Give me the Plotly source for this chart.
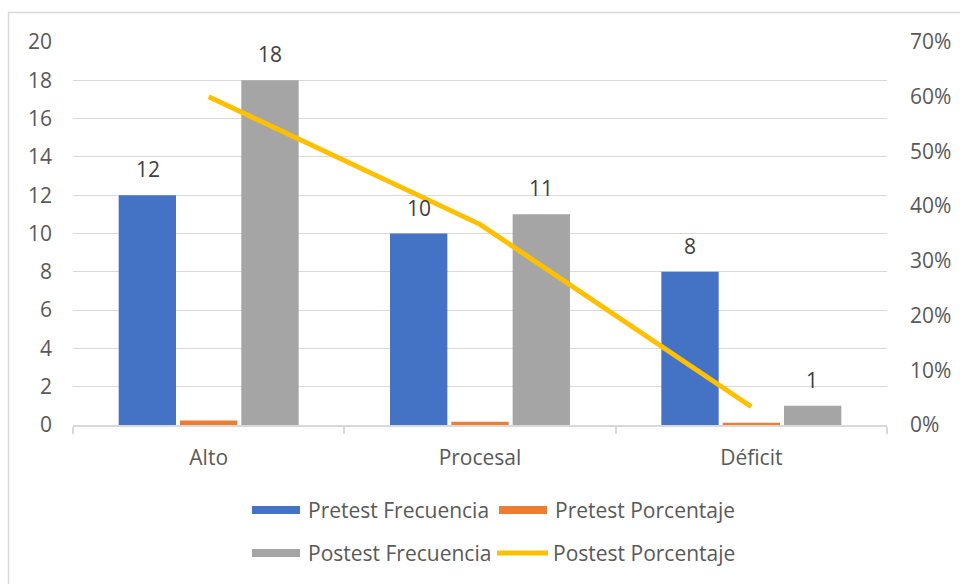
import plotly.graph_objects as go

# Chart data
categories = ["Alto", "Procesal", "Déficit"]
pretest_frecuencia = [12, 10, 8]
pretest_porcentaje = [0.23, 0.17, 0.12]
postest_frecuencia = [18, 11, 1]
postest_porcentaje = [0.60, 0.3667, 0.0333]
series_names = ["Pretest Frecuencia", "Pretest Porcentaje",
                "Postest Frecuencia", "Postest Porcentaje"]
left_ticks = list(range(0, 21, 2))
right_ticks = [i / 10 for i in range(8)]

colors = ["#4472C4", "#ED7D31", "#A5A5A5", "#FFC000"]
TEXT = "#595959"
GRID = "#D9D9D9"
FONT = "Open Sans, Noto Sans, sans-serif"
FS = 21

W, H = 960, 584
L, R, T, B = 73, 887, 42, 425  # plot area in pixels


def px(x):
    return (x - L) / (R - L)


def py(y):
    return (B - y) / (B - T)


fig = go.Figure()
fig.add_trace(go.Bar(x=categories, y=pretest_frecuencia, name=series_names[0],
                     marker=dict(color=colors[0], line_width=0)))
fig.add_trace(go.Bar(x=categories, y=pretest_porcentaje, name=series_names[1],
                     marker=dict(color=colors[1], line_width=0)))
fig.add_trace(go.Bar(x=categories, y=postest_frecuencia, name=series_names[2],
                     marker=dict(color=colors[2], line_width=0)))
fig.add_trace(go.Scatter(x=categories, y=postest_porcentaje, name=series_names[3],
                         yaxis="y2", mode="lines",
                         line=dict(color=colors[3], width=5)))

# Value labels above the frequency bars
annotations = []
for vals, shift in ((pretest_frecuencia, -61), (postest_frecuencia, 61)):
    for c, v in zip(categories, vals):
        annotations.append(dict(x=c, y=v, xref="x", yref="y", text=str(v),
                                showarrow=False, xshift=shift, yshift=26,
                                yanchor="middle",
                                font=dict(size=FS, color="#404040", family=FONT)))

# Legend (two rows, wide swatches)
shapes = []
legend_rows = [(510, [(252, 300, 0, 306), (499, 547, 1, 553)]),
               (553, [(252, 300, 2, 306), (495, 550, 3, 551)])]
for yc, items in legend_rows:
    for x0, x1, idx, xt in items:
        if idx == 3:
            shapes.append(dict(type="line", xref="paper", yref="paper",
                               x0=px(x0 + 2), x1=px(x1 - 2), y0=py(yc), y1=py(yc),
                               line=dict(color=colors[idx], width=5)))
        else:
            shapes.append(dict(type="rect", xref="paper", yref="paper",
                               x0=px(x0), x1=px(x1), y0=py(yc - 4), y1=py(yc + 4),
                               fillcolor=colors[idx], line_width=0))
        annotations.append(dict(x=px(xt), y=py(yc), xref="paper", yref="paper",
                                text=series_names[idx], showarrow=False,
                                xanchor="left", yanchor="middle",
                                font=dict(size=FS, color=TEXT, family=FONT)))

# Chart border
shapes.append(dict(type="rect", xref="paper", yref="paper", layer="below",
                   x0=px(8.5), x1=px(W + 20), y0=py(12.5), y1=py(H + 20),
                   line=dict(color=GRID, width=1.5), fillcolor="rgba(0,0,0,0)"))

fig.update_layout(
    width=W, height=H,
    margin=dict(l=L, r=W - R, t=T, b=H - B, pad=0, autoexpand=False),
    paper_bgcolor="white", plot_bgcolor="white",
    barmode="group", bargap=0.322, bargroupgap=0.065,
    showlegend=False,
    font=dict(family=FONT, size=FS, color=TEXT),
    xaxis=dict(showline=True, linecolor=GRID, linewidth=1.5, automargin=False,
               ticks="outside", tickson="boundaries", ticklen=7,
               tickcolor=GRID, tickwidth=1.5, ticklabelstandoff=13,
               tickfont=dict(size=FS, color=TEXT), showgrid=False),
    yaxis=dict(range=[0, 20], tickvals=left_ticks, showgrid=True, automargin=False,
               gridcolor=GRID, gridwidth=1.3, zeroline=False, showline=False,
               ticks="", ticklabelstandoff=20,
               tickfont=dict(size=FS, color=TEXT)),
    yaxis2=dict(range=[0, 0.7], tickvals=right_ticks, tickformat=".0%",
                overlaying="y", side="right", showgrid=False, zeroline=False,
                showline=False, ticks="", ticklabelstandoff=22, automargin=False,
                tickfont=dict(size=FS, color=TEXT)),
    annotations=annotations,
    shapes=shapes,
)

fig.write_html("out.html")
